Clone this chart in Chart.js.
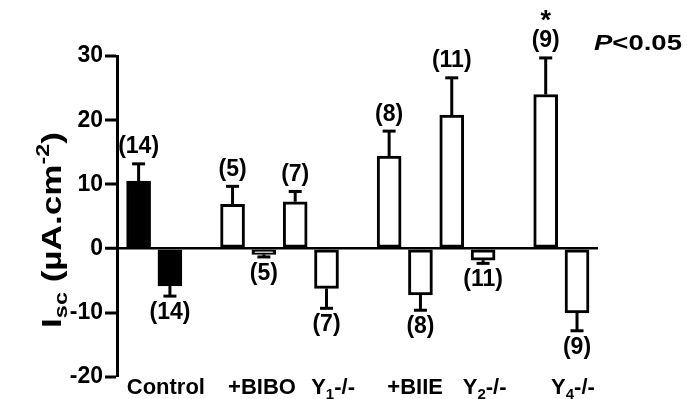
<!DOCTYPE html>
<html><head><meta charset="utf-8">
<script src="https://cdn.jsdelivr.net/npm/chart.js@4"></script>
<style>html,body{margin:0;padding:0;background:#fff}</style>
</head><body>
<canvas id="c" width="688" height="399"></canvas>
<script>
// ---- data ----
const categories = ['Control', '+BIBO', 'Y_1-/-', '+BIIE', 'Y_2-/-', 'Y_4-/-'];
const categoryCenters = [0.87, 3.94, 6.21, 8.83, 11.05, 13.87];
const barSlots = [0, 1, 3, 4, 5, 6, 8, 9, 10, 11, 13, 14];
const meanValues = [10.5, -5.8, 6.9, -0.9, 7.3, -6.2, 14.4, -7.2, 20.8, -1.8, 24.0, -10.0];
const semValues = [2.7, 1.6, 2.8, 0.4, 1.6, 3.1, 3.9, 2.4, 5.8, 0.5, 5.7, 2.8];
const nValues = [14, 14, 5, 5, 7, 7, 8, 8, 11, 11, 9, 9];
const significant = [false, false, false, false, false, false, false, false, false, false, true, false];
const yTicks = [-20, -10, 0, 10, 20, 30];
const yTitle = 'I_{sc} (µA.cm^{-2})';
const pNote = 'P<0.05';

const FONT = '"Liberation Sans", Arial, sans-serif';

function parseRich(str) {
  const segs = []; let i = 0, buf = '';
  while (i < str.length) {
    const ch = str[i];
    if (ch === '_' || ch === '^') {
      if (buf) { segs.push({t: buf, k: 'n'}); buf = ''; }
      let txt;
      if (str[i + 1] === '{') { const e = str.indexOf('}', i); txt = str.slice(i + 2, e); i = e + 1; }
      else { txt = str[i + 1]; i += 2; }
      segs.push({t: txt, k: ch === '_' ? 'sub' : 'sup'});
    } else { buf += ch; i++; }
  }
  if (buf) segs.push({t: buf, k: 'n'});
  return segs;
}
function drawRich(ctx, str, cx, by, size, subSize, subShift, supShift, stretch) {
  stretch = stretch || 1;
  const segs = parseRich(str);
  const fontFor = k => 'bold ' + (k === 'n' ? size : subSize) + 'px ' + FONT;
  let total = 0;
  segs.forEach(s => { ctx.font = fontFor(s.k); s.w = ctx.measureText(s.t).width; total += s.w; });
  ctx.save();
  ctx.translate(cx, by);
  ctx.scale(stretch, 1);
  let x = -total / 2;
  ctx.textAlign = 'left'; ctx.textBaseline = 'alphabetic'; ctx.fillStyle = '#000';
  segs.forEach(s => {
    ctx.font = fontFor(s.k);
    const dy = s.k === 'sub' ? subShift : (s.k === 'sup' ? -supShift : 0);
    ctx.fillText(s.t, x, dy);
    x += s.w;
  });
  ctx.restore();
}

const annotations = {
  id: 'annotations',
  afterDatasetsDraw(chart) {
    const ctx = chart.ctx, xs = chart.scales.x, ys = chart.scales.y;
    ctx.save();
    ctx.strokeStyle = '#000'; ctx.lineWidth = 3; ctx.lineCap = 'butt';
    barSlots.forEach((s, i) => {
      const x = xs.getPixelForValue(s);
      const m = meanValues[i];
      const end = m >= 0 ? m + semValues[i] : m - semValues[i];
      const y0 = ys.getPixelForValue(m), y1 = ys.getPixelForValue(end);
      ctx.beginPath(); ctx.moveTo(x, y0); ctx.lineTo(x, y1); ctx.stroke();
      ctx.beginPath(); ctx.moveTo(x - 6.5, y1); ctx.lineTo(x + 6.5, y1); ctx.stroke();
      ctx.fillStyle = '#000'; ctx.font = 'bold 23px ' + FONT;
      ctx.textAlign = 'center'; ctx.textBaseline = 'alphabetic';
      const label = '(' + nValues[i] + ')';
      if (m >= 0) {
        const by = y1 - 10.5;
        ctx.fillText(label, x, by);
        if (significant[i]) { ctx.font = 'bold 27px ' + FONT; ctx.fillText('*', x, by - 18); }
      } else {
        ctx.fillText(label, x, y1 + 23);
      }
    });
    ctx.restore();
  },
  afterDraw(chart) {
    const ctx = chart.ctx, xs = chart.scales.x;
    ctx.save();
    categories.forEach((c, i) => {
      drawRich(ctx, c, xs.getPixelForValue(categoryCenters[i]), 394, 22, 15, 5, 9);
    });
    // y title
    ctx.save();
    ctx.translate(61, 230);
    ctx.rotate(-Math.PI / 2);
    drawRich(ctx, yTitle, 0, 0, 27, 18, 6, 12, 1.3);
    ctx.restore();
    // P note
    ctx.save();
    ctx.translate(594, 50);
    ctx.scale(1.25, 1);
    ctx.fillStyle = '#000'; ctx.textBaseline = 'alphabetic'; ctx.textAlign = 'left';
    ctx.font = 'italic bold 22px ' + FONT;
    const pw = ctx.measureText(pNote[0]).width;
    ctx.fillText(pNote[0], 0, 0);
    ctx.font = 'bold 22px ' + FONT;
    ctx.fillText(pNote.slice(1), pw, 0);
    ctx.restore();
    ctx.restore();
  }
};

new Chart(document.getElementById('c'), {
  type: 'bar',
  data: {
    datasets: [{
      data: barSlots.map((s, i) => ({x: s, y: meanValues[i]})),
      backgroundColor: c => c.dataIndex < 2 ? '#000' : '#fff',
      borderColor: '#000',
      borderWidth: 3,
      borderSkipped: false,
      barThickness: 24
    }]
  },
  options: {
    responsive: false,
    devicePixelRatio: 1,
    animation: false,
    layout: {padding: {left: 0, top: 56, right: 90, bottom: 22}},
    plugins: {legend: {display: false}, tooltip: {enabled: false}},
    scales: {
      x: {type: 'linear', offset: false, bounds: 'data', min: -0.69, max: 14.67, display: false, grid: {offset: false}},
      y: {
        min: -20, max: 30,
        afterFit: s => { s.width = 117; },
        afterBuildTicks: s => { s.ticks = yTicks.map(v => ({value: v})); },
        ticks: {color: '#000', font: {family: FONT, size: 23, weight: 'bold'}, padding: 2},
        border: {display: true, color: '#000', width: 3},
        grid: {
          drawOnChartArea: true,
          color: c => (c.tick && c.tick.value === 0) ? '#000' : 'rgba(0,0,0,0)',
          lineWidth: c => (c.tick && c.tick.value === 0) ? 2.5 : 0,
          tickColor: '#000', tickWidth: 3, tickLength: 12
        }
      }
    }
  },
  plugins: [annotations]
});
</script>
</body></html>
